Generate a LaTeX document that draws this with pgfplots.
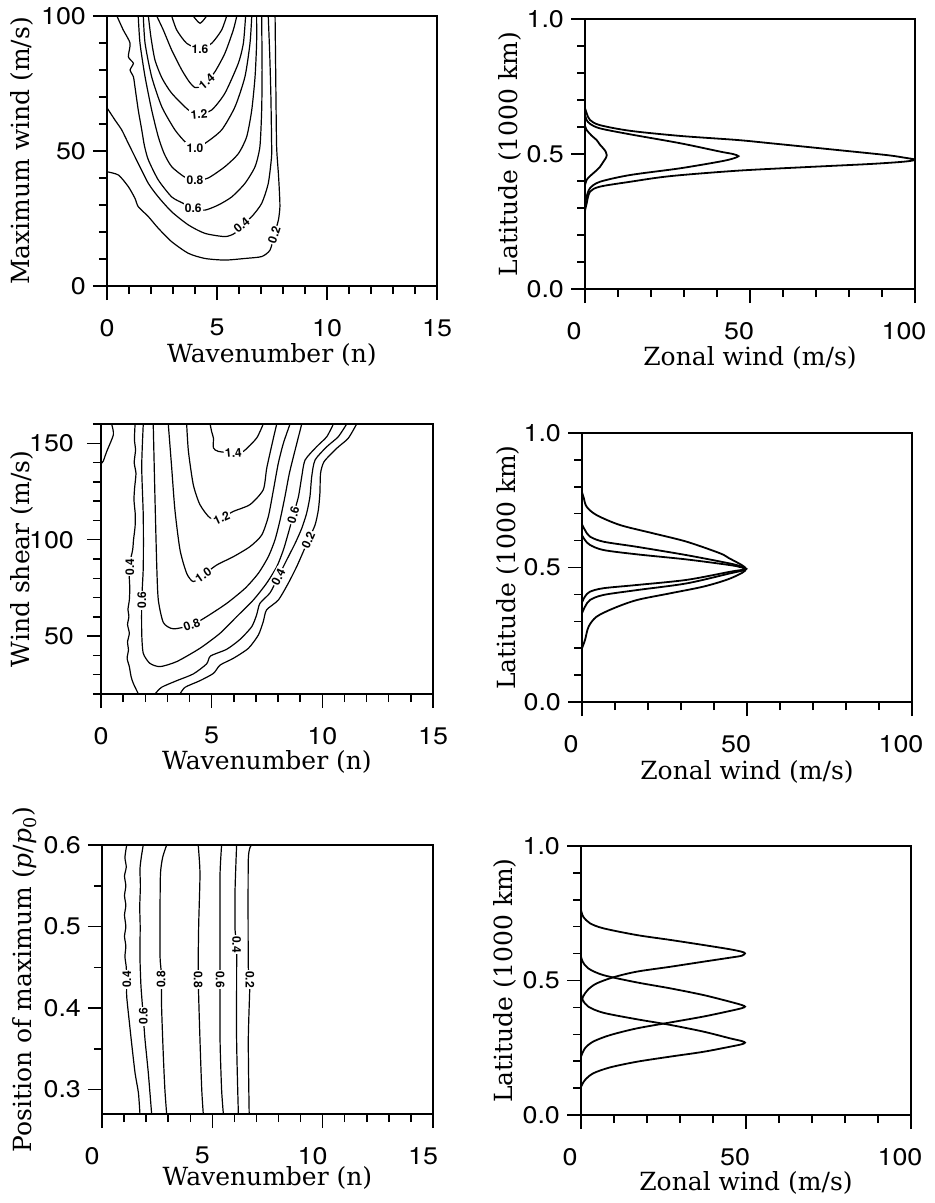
\documentclass[border=0pt]{standalone}
\usepackage{fontspec}
\usepackage{pgfplots}
\pgfplotsset{compat=1.18}
\setmainfont{DejaVu Serif}
\newfontfamily\tickfont[FakeStretch=1.12]{TeX Gyre Heros}
\newfontfamily\labfont{TeX Gyre Heros}

\pgfplotsset{
  panel/.style={
    scale only axis, anchor=south west,
    axis line style={line width=0.75pt},
    tick align=outside, tick pos=left,
    major tick length=7pt, minor tick length=4pt,
    every tick/.style={black, line width=0.75pt},
    tick label style={font=\tickfont\fontsize{12}{12}\selectfont},
    every x tick label/.append style={yshift=-6pt},
    /pgf/number format/assume math mode=true,
    label style={font=\fontsize{12.5}{14}\selectfont},
  },
  cont/.style={black, line width=0.6pt, smooth, tension=0.4},
  prof/.style={black, line width=0.9pt, smooth, tension=0.5},
}
\tikzset{clab/.style={font=\labfont\fontsize{6}{6}\selectfont\bfseries, fill=white, inner sep=0.6pt}}

\begin{document}
\begin{tikzpicture}
\useasboundingbox (0,0) rectangle (467pt,-601.5pt);

% ---------- top left: maximum wind ----------
\begin{axis}[panel, at={(53.5pt,-143pt)}, width=165pt, height=135pt,
  xmin=0, xmax=15, ymin=0, ymax=100,
  xtick={0,5,10,15}, minor x tick num=4,
  ytick={0,50,100}, minor y tick num=4,
  xlabel={Wavenumber (n)}, ylabel={Maximum wind (m/s)},
  xlabel style={at={(axis description cs:0.5,-0.256)}, anchor=center},
  ylabel style={at={(axis description cs:-0.258,0.5)}, anchor=center},
]
\addplot[cont] coordinates {(0,42.3) (0.52,41.1) (0.97,36.8) (1.27,32.5) (1.42,29.4) (1.88,25.7) (2.33,21.4) (2.94,16.4) (3.7,12.1) (4.45,10.2) (5.36,9.6) (6.27,10.2) (7.03,10.9) (7.41,13.3) (7.6,18.9) (7.79,24.4) (7.86,29.4) (7.83,36) (7.79,41.7) (7.71,51.6) (7.68,70) (7.66,85) (7.64,100)};
\addplot[cont] coordinates {(0,66) (0.36,61.5) (0.67,57.8) (0.97,52.8) (1.42,45.4) (1.88,38) (2.33,33) (2.94,27.5) (3.7,22.6) (4.45,19.5) (5.36,18.3) (5.8,19.5) (6.12,22.6) (6.58,25.7) (7.03,30.6) (7.33,38) (7.48,47.9) (7.48,54) (7.45,70) (7.4,85) (7.33,100)};
\addplot[cont] coordinates {(0.45,100) (0.74,94.8) (1.05,89.9) (0.97,84.9) (1.2,82.5) (1.05,80) (1.2,77.5) (1.27,73.8) (1.42,65.2) (1.58,57.8) (1.7,52) (1.88,46.7) (2.33,39.3) (2.94,33) (3.47,30.6) (3.92,28.8) (4.45,28.1) (5.06,30) (5.67,33) (6.27,38) (6.73,44.2) (6.95,51.6) (7.03,65) (7.05,80) (7.03,100)};
\addplot[cont] coordinates {(1.42,100) (1.5,89.9) (1.73,77.5) (2.03,65.2) (2.33,55.3) (2.6,49) (2.94,44.2) (3.5,40.5) (4.0,39) (4.6,40) (5.36,44.2) (5.97,49) (6.35,55.3) (6.58,65.2) (6.73,77.5) (6.8,89.9) (6.8,100)};
\addplot[cont] coordinates {(1.65,100) (1.73,89.9) (2.03,77.5) (2.49,66.4) (3.09,57.8) (3.62,52.8) (4.0,51.2) (4.45,52.8) (5.21,57.8) (5.82,66.4) (6.27,77.5) (6.5,89.9) (6.58,100)};
\addplot[cont] coordinates {(1.88,100) (2.0,92) (2.18,83.7) (2.5,77) (2.94,71.4) (3.7,65.2) (4.18,63.7) (4.76,65.2) (5.36,71.4) (5.97,82.5) (6.2,90) (6.3,100)};
\addplot[cont] coordinates {(2.26,100) (2.56,94.8) (2.94,87.4) (3.4,80) (3.75,75.5) (4.0,73.5) (4.3,74) (4.53,75.7) (4.91,79.4) (5.36,86.2) (5.74,94.8) (5.9,100)};
\addplot[cont] coordinates {(2.94,100) (3.17,94.8) (3.62,89.9) (4.23,87.8) (4.76,89.9) (5.21,94.8) (5.44,100)};
\addplot[cont] coordinates {(3.92,100) (4.23,97.3) (4.53,100)};
\node[clab] at (axis cs:4.23,87.8) {1.6};
\node[clab,rotate=40] at (axis cs:4.53,75.7) {1.4};
\node[clab,rotate=5] at (axis cs:4.18,63.7) {1.2};
\node[clab] at (axis cs:4.0,51.2) {1.0};
\node[clab] at (axis cs:4.0,39) {0.8};
\node[clab] at (axis cs:3.92,28.8) {0.6};
\node[clab,rotate=40] at (axis cs:6.12,22.6) {0.4};
\node[clab,rotate=72] at (axis cs:7.6,18.9) {0.2};
\end{axis}

% ---------- top right ----------
\begin{axis}[panel, at={(292.5pt,-144.5pt)}, width=165pt, height=135pt,
  xmin=0, xmax=100, ymin=0, ymax=1,
  xtick={0,50,100}, minor x tick num=4,
  ytick={0,0.5,1}, yticklabels={0.0,0.5,1.0}, minor y tick num=4,
  xticklabel style={xshift=-5.5pt},
  xlabel={Zonal wind (m/s)}, ylabel={Latitude (1000 km)},
  xlabel style={at={(axis description cs:0.5,-0.256)}, anchor=center},
  ylabel style={at={(axis description cs:-0.227,0.5)}, anchor=center},
]
\addplot[prof] coordinates {(0,0.29) (0.5,0.317) (1.5,0.36) (4.5,0.379) (13.6,0.397) (25.8,0.418) (46,0.438) (66.2,0.451) (86.4,0.463) (97,0.472) (100,0.479) (97,0.486) (91.4,0.496) (76.3,0.515) (56.1,0.54) (46,0.552) (28.8,0.567) (13.6,0.586) (4.5,0.607) (1.5,0.626) (0.5,0.651) (0,0.67)};
\addplot[prof] coordinates {(0,0.31) (0.5,0.342) (1.5,0.373) (4.5,0.397) (13.6,0.422) (28.8,0.447) (40.9,0.472) (44.8,0.483) (46.5,0.492) (44.8,0.5) (40.9,0.509) (28.8,0.54) (13.6,0.573) (4.5,0.595) (1.5,0.612) (0.5,0.626) (0,0.645)};
\addplot[prof] coordinates {(0,0.385) (0.5,0.404) (1.5,0.418) (3,0.434) (4.5,0.452) (5.6,0.472) (6.4,0.487) (6.6,0.496) (6.3,0.508) (5.6,0.52) (4.5,0.535) (3.5,0.552) (2,0.568) (0.5,0.589) (0,0.605)};
\end{axis}

% ---------- middle left: wind shear ----------
\begin{axis}[panel, at={(50.5pt,-347pt)}, width=166pt, height=135pt,
  xmin=0, xmax=15, ymin=20, ymax=160,
  xtick={0,5,10,15}, minor x tick num=4,
  ytick={50,100,150}, minor ytick={20,30,...,160},
  yticklabel style={xshift=-3pt},
  xlabel={Wavenumber (n)}, ylabel={Wind shear (m/s)},
  xlabel style={at={(axis description cs:0.5,-0.252)}, anchor=center},
  ylabel style={at={(axis description cs:-0.238,0.5)}, anchor=center},
]
\addplot[cont] coordinates {(0.48,160) (0.56,154.5) (0.26,145.8) (0.1,140.7) (0,139.5)};
\addplot[cont] coordinates {(1.54,160) (1.51,152) (1.56,146.5) (1.5,140) (1.58,134.4) (1.52,127) (1.49,120.6) (1.55,113) (1.54,106.8) (1.47,100) (1.43,94.7) (1.3,88) (1.27,82.6) (1.3,75) (1.28,68.7) (1.22,64) (1.26,60.1) (1.2,56) (1.28,51.5) (1.2,47) (1.24,42.8) (1.18,38.5) (1.28,34.2) (1.36,29) (1.46,25.5) (1.69,20)};
\addplot[cont] coordinates {(1.91,160) (1.84,137.9) (1.91,112) (1.91,86) (1.84,68.7) (1.84,51.5) (1.91,41.1) (2.21,35.9) (2.67,34.2) (3.42,36.8) (4.47,43.7) (5.38,51.5) (6.13,60.1) (6.88,68.7) (7.48,77.4) (7.94,86) (8.24,94.7) (8.46,103.3) (8.69,112.8) (8.92,122.3) (9.07,132.7) (9.22,141.3) (9.74,148.2) (10.2,153.4) (10.5,160)};
\addplot[cont] coordinates {(2.44,20) (2.74,23.5) (3.42,26.9) (4.17,30.4) (4.77,35.6) (4.95,39.7) (5.68,43.2) (6.28,48.3) (6.81,54.9) (7.03,61) (7.18,67) (7.64,72.5) (8.01,80.8) (8.39,89.5) (8.77,98.1) (9.07,105.9) (9.29,113.7) (9.44,122.3) (9.52,132.7) (9.67,141.3) (10.2,148.2) (10.72,153.4) (11.1,160)};
\addplot[cont] coordinates {(3.57,20) (3.8,23.5) (4.47,26.9) (5.08,30.7) (5.38,35) (5.98,38.5) (6.66,43.7) (7.11,50.6) (7.33,57.5) (7.48,63.6) (8.01,68.7) (8.46,77.4) (8.84,86) (9.14,93.8) (9.37,99.9) (9.67,107.6) (9.82,115.4) (9.89,124.1) (9.92,134.4) (10.08,140.5) (10.65,147.4) (11.17,152.6) (11.55,160)};
\addplot[cont] coordinates {(2.36,160) (2.44,121) (2.52,86) (2.59,68.7) (2.82,57) (3.27,53.8) (4.1,55.8) (4.77,60.1) (5.68,67) (6.51,74.8) (7.11,82.6) (7.56,91.2) (7.86,99.9) (8.09,110.2) (8.31,122.3) (8.51,134.4) (8.77,146.5) (9.07,160)};
\addplot[cont] coordinates {(3.04,160) (3.19,137.9) (3.34,115.4) (3.57,94.7) (3.87,82.6) (4.17,78.3) (4.62,81.7) (5.23,86.9) (5.98,91.2) (6.73,96.4) (7.26,102.4) (7.56,112) (7.79,125.8) (8.01,139.6) (8.24,150) (8.54,160)};
\addplot[cont] coordinates {(3.87,160) (3.95,145.8) (4.17,128.5) (4.47,118.2) (4.93,111.3) (5.45,111.3) (5.98,114.7) (6.73,118.2) (7.33,125.9) (7.49,137.2) (7.79,152.7) (7.94,160)};
\addplot[cont] coordinates {(4.93,160) (5.0,156) (5.08,152.7) (5.08,147.6) (5.3,145.8) (5.98,145) (6.43,145.8) (7.03,152.7) (7.33,160)};
\node[clab,rotate=90] at (axis cs:1.3,86) {0.4};
\node[clab,rotate=90] at (axis cs:1.84,68.7) {0.6};
\node[clab,rotate=20] at (axis cs:4.1,55.8) {0.8};
\node[clab,rotate=35] at (axis cs:4.62,81.7) {1.0};
\node[clab,rotate=25] at (axis cs:5.45,111.3) {1.2};
\node[clab,rotate=5] at (axis cs:5.98,145) {1.4};
\node[clab,rotate=74] at (axis cs:8.69,112.8) {0.6};
\node[clab,rotate=63] at (axis cs:8.01,80.8) {0.4};
\node[clab,rotate=66] at (axis cs:9.37,99.9) {0.2};
\end{axis}

% ---------- middle right ----------
\begin{axis}[panel, at={(291pt,-351pt)}, width=165pt, height=134.5pt,
  xmin=0, xmax=100, ymin=0, ymax=1,
  xtick={0,50,100}, minor x tick num=4,
  ytick={0,0.5,1}, yticklabels={0.0,0.5,1.0}, minor y tick num=4,
  xticklabel style={xshift=-5.5pt},
  xlabel={Zonal wind (m/s)}, ylabel={Latitude (1000 km)},
  xlabel style={at={(axis description cs:0.5,-0.26)}, anchor=center},
  ylabel style={at={(axis description cs:-0.224,0.5)}, anchor=center},
]
\addplot[prof] coordinates {(0,0.2) (0.9,0.23) (2.0,0.28) (4.4,0.317) (9.5,0.348) (16.6,0.379) (26.7,0.404) (36.8,0.429) (44,0.455) (48.5,0.48) (49.7,0.495) (48.3,0.51) (44.5,0.535) (41.8,0.553) (31.7,0.596) (21.6,0.627) (11.5,0.658) (4.4,0.695) (1.4,0.726) (0.5,0.76) (0,0.78)};
\addplot[prof] coordinates {(0,0.33) (0.9,0.354) (2.4,0.379) (6.5,0.398) (16.6,0.416) (31.7,0.441) (44.8,0.478) (48.5,0.488) (49.7,0.495) (48.5,0.503) (44.8,0.515) (31.7,0.546) (16.6,0.577) (6.5,0.596) (2.4,0.615) (0.9,0.639) (0,0.66)};
\addplot[prof] coordinates {(0,0.37) (0.9,0.392) (2.4,0.41) (6.5,0.423) (16.6,0.435) (31.7,0.454) (44.8,0.484) (48.5,0.491) (49.7,0.495) (48.5,0.5) (44.8,0.509) (31.7,0.53) (16.6,0.549) (6.5,0.565) (2.4,0.584) (0.9,0.602) (0,0.62)};
\end{axis}

% ---------- bottom left: position of maximum ----------
\begin{axis}[panel, at={(51pt,-557pt)}, width=165.5pt, height=134.5pt,
  xmin=0, xmax=15, ymin=0.27, ymax=0.6,
  xtick={0,5,10,15}, minor x tick num=4,
  ytick={0.3,0.4,0.5,0.6}, yticklabels={0.3,0.4,0.5,0.6}, minor ytick={0.35,0.45,0.55},
  xticklabel style={xshift=-5pt},
  xlabel={Wavenumber (n)}, ylabel={Position of maximum (\textit{p}/\textit{p}\textsubscript{0})},
  xlabel style={at={(axis description cs:0.5,-0.238)}, anchor=center},
  ylabel style={at={(axis description cs:-0.233,0.5)}, anchor=center},
]
\addplot[cont] coordinates {(1.12,0.6) (1.04,0.585) (1.1,0.573) (1.02,0.562) (1.08,0.55) (1.02,0.538) (1.08,0.526) (1.02,0.514) (1.08,0.5) (1.02,0.488) (1.08,0.476) (1.04,0.463) (1.1,0.45) (1.12,0.43) (1.12,0.414) (1.25,0.38) (1.35,0.355) (1.5,0.32) (1.65,0.296) (1.72,0.27)};
\addplot[cont] coordinates {(1.87,0.6) (1.78,0.585) (1.72,0.57) (1.74,0.55) (1.71,0.524) (1.73,0.5) (1.72,0.463) (1.76,0.43) (1.8,0.414) (1.87,0.39) (1.95,0.361) (2.1,0.32) (2.25,0.27)};
\addplot[cont] coordinates {(2.93,0.6) (2.75,0.585) (2.65,0.565) (2.63,0.52) (2.63,0.463) (2.7,0.439) (2.7,0.402) (2.78,0.341) (2.85,0.3) (2.93,0.27)};
\addplot[cont] coordinates {(4.36,0.6) (4.44,0.565) (4.38,0.5) (4.36,0.439) (4.44,0.361) (4.52,0.3) (4.59,0.27)};
\addplot[cont] coordinates {(5.42,0.6) (5.35,0.565) (5.35,0.5) (5.35,0.439) (5.35,0.361) (5.42,0.3) (5.5,0.27)};
\addplot[cont] coordinates {(6.1,0.6) (6.03,0.545) (6.03,0.496) (6.1,0.475) (6.1,0.361) (6.18,0.27)};
\addplot[cont] coordinates {(6.78,0.6) (6.63,0.582) (6.63,0.451) (6.71,0.439) (6.63,0.361) (6.67,0.27)};
\node[clab,rotate=90] at (axis cs:1.12,0.435) {0.4};
\node[clab,rotate=90] at (axis cs:1.87,0.39) {0.6};
\node[clab,rotate=90] at (axis cs:2.68,0.435) {0.8};
\node[clab,rotate=-90] at (axis cs:4.36,0.435) {0.8};
\node[clab,rotate=-90] at (axis cs:5.35,0.435) {0.6};
\node[clab,rotate=-90] at (axis cs:6.1,0.478) {0.4};
\node[clab,rotate=-90] at (axis cs:6.7,0.435) {0.2};
\end{axis}

% ---------- bottom right ----------
\begin{axis}[panel, at={(290.5pt,-557.5pt)}, width=165pt, height=134.5pt,
  xmin=0, xmax=100, ymin=0, ymax=1,
  xtick={0,50,100}, minor x tick num=4,
  ytick={0,0.5,1}, yticklabels={0.0,0.5,1.0}, minor y tick num=4,
  xticklabel style={xshift=-5.5pt},
  xlabel={Zonal wind (m/s)}, ylabel={Latitude (1000 km)},
  xlabel style={at={(axis description cs:0.5,-0.253)}, anchor=center},
  ylabel style={at={(axis description cs:-0.23,0.5)}, anchor=center},
]
\addplot[prof] coordinates {(0,0.415) (0.7,0.442) (2.2,0.467) (4.7,0.489) (9.8,0.512) (16.9,0.533) (27,0.551) (37.1,0.57) (45.2,0.585) (48.7,0.592) (49.7,0.601) (48.7,0.607) (45.2,0.616) (37.1,0.632) (27,0.651) (16.9,0.669) (6.8,0.694) (2.7,0.713) (0.7,0.737) (0,0.762)};
\addplot[prof] coordinates {(0,0.217) (1.2,0.248) (3.7,0.273) (8.8,0.297) (16.9,0.322) (27,0.344) (37.1,0.366) (45.2,0.387) (48.7,0.397) (49.7,0.403) (48.7,0.409) (45.2,0.421) (37.1,0.446) (27,0.471) (16.9,0.493) (6.8,0.52) (2.2,0.545) (0.5,0.57) (0,0.589)};
\addplot[prof] coordinates {(0,0.105) (1.2,0.13) (3.7,0.155) (8.8,0.177) (16.9,0.198) (27,0.217) (37.1,0.235) (45.2,0.254) (48.7,0.263) (49.7,0.269) (48.7,0.275) (45.2,0.285) (37.1,0.31) (27,0.335) (16.9,0.356) (6.8,0.38) (2.2,0.403) (0.5,0.428) (0,0.452)};
\end{axis}
\end{tikzpicture}
\end{document}
